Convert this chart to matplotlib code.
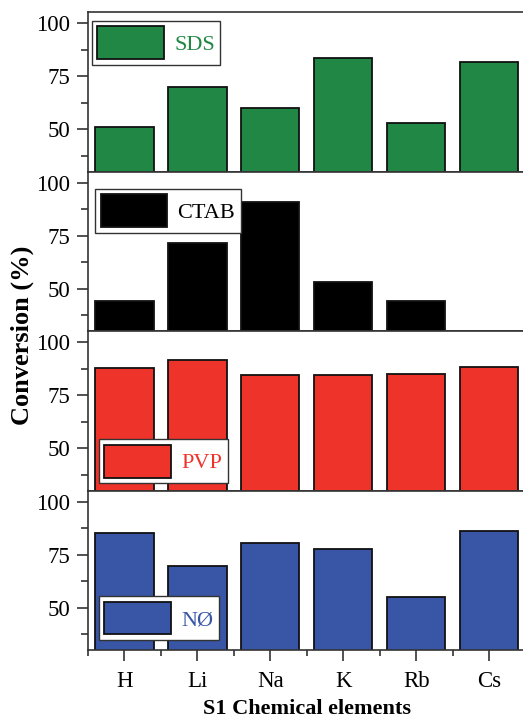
import matplotlib

matplotlib.use("Agg")
import matplotlib.pyplot as plt
import numpy as np
from matplotlib.ticker import FixedLocator

plt.rcParams["font.family"] = ["Liberation Serif", "DejaVu Serif"]

elements = ["H", "Li", "Na", "K", "Rb", "Cs"]
sds = [51.1, 69.8, 60.0, 83.5, 52.8, 81.6]
ctab = [44.2, 71.7, 91.0, 53.0, 44.0, 0.0]
pvp = [87.9, 91.7, 84.3, 84.5, 84.8, 88.3]
n0 = [85.0, 69.5, 80.6, 77.4, 54.8, 86.2]

series = [
    ("SDS", sds, "#218745", "upper left", (0.009, 0.944)),
    ("CTAB", ctab, "#000000", "upper left", (0.016, 0.892)),
    ("PVP", pvp, "#EE332B", "lower left", (0.025, 0.046)),
    ("NØ", n0, "#3955A5", "lower left", (0.025, 0.063)),
]

W, H = 523, 720
fig = plt.figure(figsize=(W / 100, H / 100), dpi=100)

left = 88 / W
width = (525.5 - 88) / W
panel_h = 159.5 / H
top_px = 12

x = np.arange(len(elements))
for i, (name, vals, color, loc, anchor) in enumerate(series):
    bottom = 1 - (top_px + (i + 1) * 159.5) / H
    ax = fig.add_axes([left, bottom, width, panel_h])
    ax.bar(x, vals, width=0.8, color=color, edgecolor="#111111",
           linewidth=1.3, label=name)
    ax.set_xlim(-0.5, 5.5)
    ax.set_ylim(30, 105.2)
    ax.yaxis.set_major_locator(FixedLocator([50, 75, 100]))
    ax.yaxis.set_minor_locator(FixedLocator([37.5, 62.5, 87.5]))
    ax.tick_params(axis="y", which="major", direction="out", length=8, width=1.2,
                   labelsize=16.5, colors="#333333", labelcolor="black", pad=5)
    ax.tick_params(axis="y", which="minor", direction="out", length=5, width=1.2,
                   colors="#333333")
    for s in ax.spines.values():
        s.set_linewidth(1.2)
        s.set_color("#333333")
    ax.spines["right"].set_visible(False)
    leg = ax.legend(loc=loc, bbox_to_anchor=anchor, borderaxespad=0,
                    fontsize=16, handlelength=3.0, handleheight=1.9,
                    handletextpad=0.45, borderpad=0.25, fancybox=False,
                    edgecolor="#333333", framealpha=1, labelcolor=color)
    leg.get_frame().set_linewidth(1.0)
    if i < 3:
        ax.tick_params(axis="x", which="both", bottom=False, labelbottom=False)
    else:
        ax.set_xticks(x)
        ax.set_xticklabels(elements)
        ax.xaxis.set_minor_locator(FixedLocator(np.arange(-0.5, 6.0, 1.0)))
        ax.tick_params(axis="x", which="major", direction="out", length=8, width=1.2,
                       labelsize=16.5, colors="#333333", labelcolor="black", pad=7)
        ax.tick_params(axis="x", which="minor", direction="out", length=4, width=1.2,
                       colors="#333333")
        ax.set_xlabel("S1 Chemical elements", fontsize=16, fontweight="bold", labelpad=5)

fig.text(22 / W, 1 - 335 / H, "Conversion (%)", rotation=90, ha="center", va="center",
         fontsize=19, fontweight="bold")

fig.savefig("out.png", dpi=100)
